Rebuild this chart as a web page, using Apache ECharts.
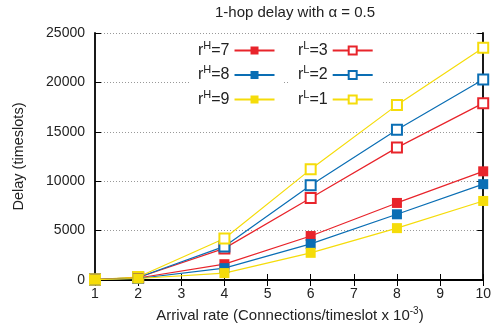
<!DOCTYPE html>
<html><head><meta charset="utf-8">
<script src="https://cdn.jsdelivr.net/npm/echarts@6/dist/echarts.min.js"></script>
<style>html,body{margin:0;padding:0;background:#fff}#c{width:494px;height:333px}</style>
</head><body><div id="c"></div>
<script>
var xVals = [1, 2, 4, 6, 8, 10];
var rH7 = [30, 200, 1600, 4450, 7800, 11000];
var rH8 = [30, 150, 1200, 3650, 6650, 9700];
var rH9 = [30, 150, 700, 2750, 5250, 8000];
var rL3 = [40, 250, 3200, 8300, 13400, 17900];
var rL2 = [40, 250, 3400, 9600, 15200, 20300];
var rL1 = [40, 300, 4200, 11200, 17700, 23500];
var names = ['rH=7', 'rH=8', 'rH=9', 'rL=3', 'rL=2', 'rL=1'];
var sups = ['H', 'H', 'H', 'L', 'L', 'L'];
var nums = ['7', '8', '9', '3', '2', '1'];
var title = '1-hop delay with \u03b1 = 0.5';
var xTitle = 'Arrival rate (Connections/timeslot x 10';
var yTitle = 'Delay (timeslots)';

var RED = '#e8242b', BLUE = '#0a6eb4', YEL = '#f5dc0a';
var colors = [RED, BLUE, YEL, RED, BLUE, YEL];
var datas = [rH7, rH8, rH9, rL3, rL2, rL1];
var FONT = 'Liberation Sans';

function pairs(ys) { return xVals.map(function (x, i) { return [x, ys[i]]; }); }

var series = datas.map(function (d, i) {
  var filled = i < 3;
  return {
    name: names[i], type: 'line', data: pairs(d),
    symbol: filled ? 'rect' : 'emptyRect', symbolSize: 10,
    lineStyle: { color: colors[i], width: 1.2 },
    itemStyle: { color: colors[i], borderColor: colors[i], borderWidth: filled ? 0 : 1.3 },
    z: filled ? 3 : 2
  };
});

var rich = {
  n: { fontFamily: FONT, fontSize: 16, color: '#222' },
  s: { fontFamily: FONT, fontSize: 11, color: '#222', padding: [0, 0, 10, 0] }
};
function fmt(name) {
  var i = names.indexOf(name);
  return '{n|r}{s|' + sups[i] + '}{n|=' + nums[i] + '}';
}
var legendCommon = {
  orient: 'vertical', align: 'right', itemWidth: 40, itemHeight: 10, itemGap: 6,
  formatter: fmt, textStyle: { rich: rich }, backgroundColor: '#fff',
  padding: [5, 8, 4, 8]
};

var axisLine = { show: true, lineStyle: { color: '#000', width: 1.8 } };
var tick = { show: true, inside: true, length: 6, lineStyle: { color: '#000', width: 1 } };
var chart = echarts.init(document.getElementById('c'));
chart.setOption({
  animation: false,
  title: {
    text: title, left: 290, top: 0, textAlign: 'center',
    textStyle: { fontFamily: FONT, fontSize: 15, fontWeight: 'normal', color: '#222' }
  },
  grid: { left: 95, right: 7, top: 33, bottom: 53 },
  legend: [
    Object.assign({}, legendCommon, { data: names.slice(0, 3), left: 190, top: 35 }),
    Object.assign({}, legendCommon, { data: names.slice(3), left: 290, top: 35 })
  ],
  graphic: [{
    type: 'text', x: 290, y: 306,
    style: {
      text: '{n|' + xTitle + '}{s|-3}{n|)}', align: 'center',
      rich: {
        n: { fontFamily: FONT, fontSize: 15, fill: '#222' },
        s: { fontFamily: FONT, fontSize: 10, fill: '#222', padding: [0, 0, 9, 0] }
      }
    }
  }],
  xAxis: [{
    type: 'value', min: 1, max: 10, interval: 1, position: 'bottom',
    axisLine: axisLine, axisTick: tick,
    axisLabel: { fontFamily: FONT, fontSize: 14, color: '#222', margin: 7 },
    splitLine: { show: false }
  }, {
    type: 'value', min: 1, max: 10, interval: 1, position: 'top',
    axisLine: axisLine, axisTick: tick,
    axisLabel: { show: false }, splitLine: { show: false }
  }],
  yAxis: [{
    type: 'value', min: 0, max: 25000, interval: 5000, position: 'left',
    name: yTitle, nameLocation: 'middle', nameGap: 69,
    nameTextStyle: { fontFamily: FONT, fontSize: 14.5, color: '#222' },
    axisLine: axisLine, axisTick: tick,
    axisLabel: { fontFamily: FONT, fontSize: 14, color: '#222', margin: 10, formatter: function (v) { return String(v); } },
    splitLine: { show: true, lineStyle: { type: [1, 2], color: '#999', width: 1 } }
  }, {
    type: 'value', min: 0, max: 25000, interval: 5000, position: 'right',
    axisLine: axisLine, axisTick: tick,
    axisLabel: { show: false }, splitLine: { show: false }
  }],
  series: series
});
</script></body></html>
